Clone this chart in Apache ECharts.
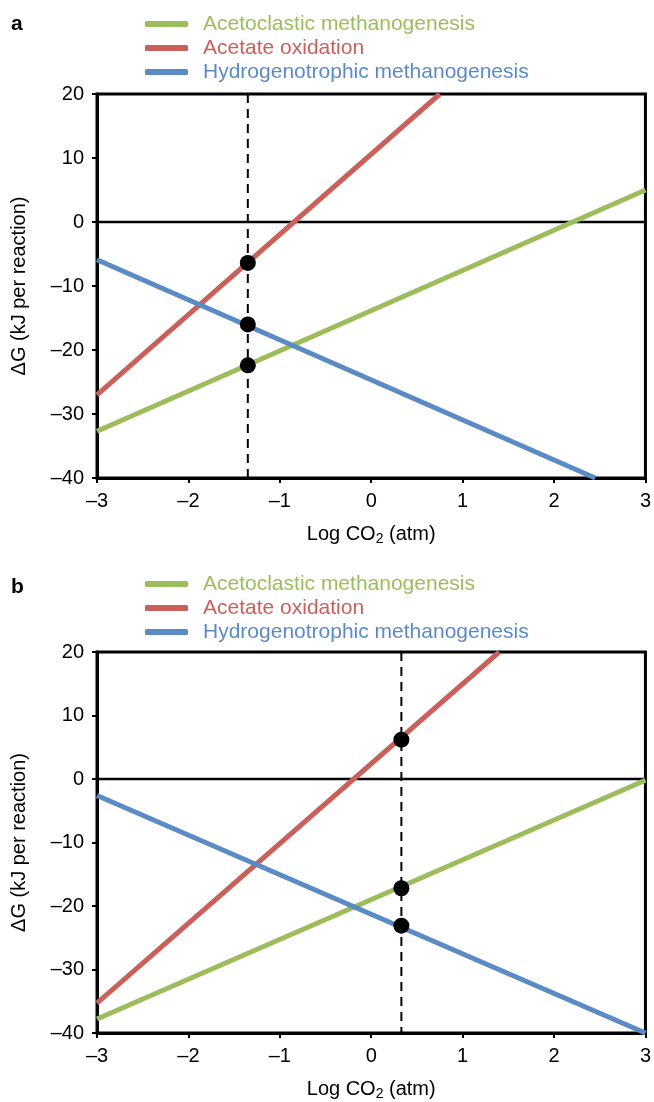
<!DOCTYPE html>
<html>
<head>
<meta charset="utf-8">
<script src="https://cdn.jsdelivr.net/npm/echarts@6/dist/echarts.min.js"></script>
<style>
  html, body { margin: 0; padding: 0; background: #fff; }
  #chart { width: 654px; height: 1102px; }
</style>
</head>
<body>
<div id="chart"></div>
<script>
const seriesNames = [
  "Acetoclastic methanogenesis",
  "Acetate oxidation",
  "Hydrogenotrophic methanogenesis",
];
const seriesColors = ["#9dbd5c", "#c9615a", "#5b8bc5"];

const xTicks = [-3, -2, -1, 0, 1, 2, 3];
const yTicks = [-40, -30, -20, -10, 0, 10, 20];

// panel a: [logCO2, dG] end points
const acetoclasticA = [[-3, -32.7], [3, 5.0]];
const acetateOxA = [[-3, -27.0], [0.75, 20]];
const hydrogenoA = [[-3, -5.9], [2.45, -40]];
const markerXA = -1.35;
const dotsA = [-6.4, -16.0, -22.4];

// panel b
const acetoclasticB = [[-3, -37.8], [3, -0.2]];
const acetateOxB = [[-3, -35.3], [1.4, 20]];
const hydrogenoB = [[-3, -2.6], [3, -40]];
const markerXB = 0.33;
const dotsB = [6.2, -17.2, -23.1];

const panelLabels = ["a", "b"];

const font = "Liberation Sans, Arial, Helvetica, sans-serif";
const chart = echarts.init(document.getElementById("chart"));

const dash = (v) => String(v).replace("-", "\u2013");

const grids = [
  { left: 97, top: 94, width: 551, height: 384 },
  { left: 97, top: 652, width: 551, height: 388 },
];

const makeX = (i) => ({
  type: "value",
  gridIndex: i,
  min: xTicks[0],
  max: xTicks[xTicks.length - 1],
  interval: 1,
  name: "Log CO{sub|2} (atm)",
  nameLocation: "middle",
  nameGap: 44,
  nameTextStyle: {
    color: "#000",
    fontFamily: font,
    fontSize: 20,
    rich: {
      sub: { fontSize: 14, fontFamily: font, color: "#000", padding: [10, 0, 0, 0] },
    },
  },
  axisLine: { onZero: false, lineStyle: { color: "#000", width: 3 } },
  axisTick: { show: true, length: 5, lineStyle: { color: "#000", width: 2 } },
  axisLabel: { color: "#000", fontFamily: font, fontSize: 20, margin: 13, formatter: dash },
  splitLine: { show: false },
});

const makeY = (i) => ({
  type: "value",
  gridIndex: i,
  min: yTicks[0],
  max: yTicks[yTicks.length - 1],
  interval: 10,
  name: "\u0394G (kJ per reaction)",
  nameLocation: "middle",
  nameGap: 68,
  nameTextStyle: { color: "#000", fontFamily: font, fontSize: 20 },
  axisLine: { onZero: false, lineStyle: { color: "#000", width: 3 } },
  axisTick: { show: true, length: 5, lineStyle: { color: "#000", width: 2 } },
  axisLabel: { color: "#000", fontFamily: font, fontSize: 20, margin: 13, formatter: dash },
  splitLine: { show: false },
});

const panelSeries = (i, lines, markerX, dots) => {
  const out = [];
  out.push({
    type: "line",
    xAxisIndex: i,
    yAxisIndex: i,
    data: [[xTicks[0], 0], [xTicks[xTicks.length - 1], 0]],
    symbol: "none",
    lineStyle: { color: "#000", width: 2.5 },
    z: 1,
    silent: true,
  });
  lines.forEach((d, k) => {
    out.push({
      name: seriesNames[k],
      type: "line",
      xAxisIndex: i,
      yAxisIndex: i,
      data: d,
      symbol: "none",
      color: seriesColors[k],
      lineStyle: { color: seriesColors[k], width: 5 },
      z: 2,
    });
  });
  out.push({
    type: "line",
    xAxisIndex: i,
    yAxisIndex: i,
    data: [[markerX, yTicks[yTicks.length - 1]], [markerX, yTicks[0]]],
    symbol: "none",
    lineStyle: { color: "#000", width: 2, type: [9, 6] },
    z: 3,
    silent: true,
  });
  out.push({
    type: "scatter",
    xAxisIndex: i,
    yAxisIndex: i,
    data: dots.map((v) => [markerX, v]),
    symbolSize: 16,
    itemStyle: { color: "#000", opacity: 1 },
    z: 4,
    silent: true,
  });
  return out;
};

const makeLegend = (top) => ({
  orient: "vertical",
  left: 140,
  top: top,
  icon: "roundRect",
  itemWidth: 43,
  itemHeight: 6,
  itemGap: 2,
  selectedMode: false,
  data: seriesNames.map((n, k) => ({
    name: n,
    textStyle: { color: seriesColors[k] },
  })),
  textStyle: { fontFamily: font, fontSize: 21, lineHeight: 22, padding: [0, 0, 0, 10] },
});

const option = {
  animation: false,
  backgroundColor: "#fff",
  grid: grids.map((g) => Object.assign({ show: true, borderColor: "#000", borderWidth: 3 }, g)),
  xAxis: [makeX(0), makeX(1)],
  yAxis: [makeY(0), makeY(1)],
  legend: [makeLegend(8), makeLegend(568)],
  graphic: [
    { type: "text", left: 11, top: 14, style: { text: panelLabels[0], font: "bold 21px " + font, fill: "#000" } },
    { type: "text", left: 11, top: 577, style: { text: panelLabels[1], font: "bold 21px " + font, fill: "#000" } },
  ],
  series: [
    ...panelSeries(0, [acetoclasticA, acetateOxA, hydrogenoA], markerXA, dotsA),
    ...panelSeries(1, [acetoclasticB, acetateOxB, hydrogenoB], markerXB, dotsB),
  ],
};

chart.setOption(option);
</script>
</body>
</html>
